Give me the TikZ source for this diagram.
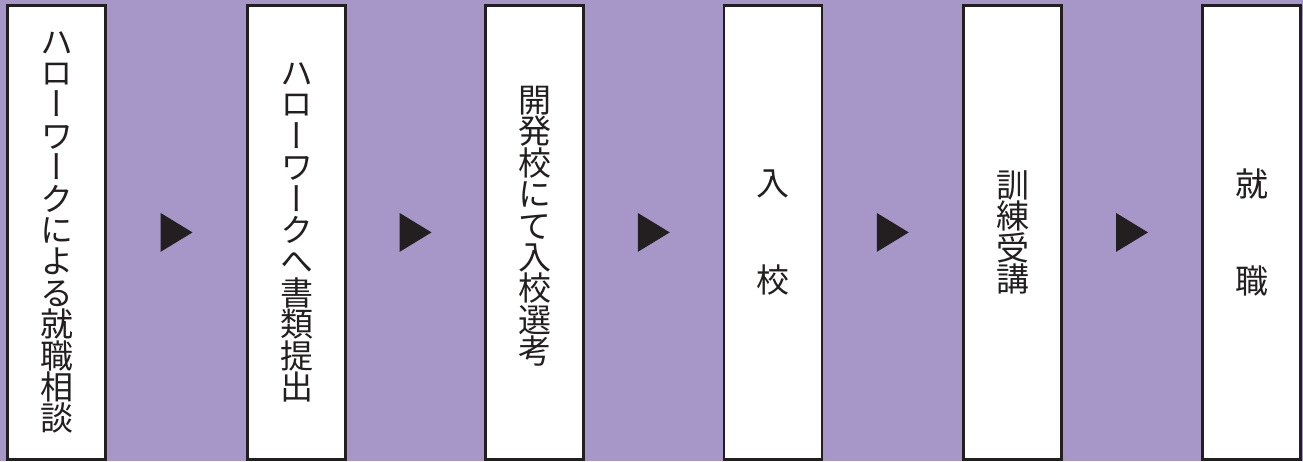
\documentclass[tikz,border=0pt]{standalone}
\usepackage{fontspec}
\usepackage{tikz}
\usetikzlibrary{calc}
\newfontfamily\jp[RawFeature=+vert]{Noto Sans CJK JP}
\definecolor{bg}{HTML}{A797C9}
\definecolor{ink}{HTML}{231F20}

\begin{document}
\begin{tikzpicture}[x=1pt,y=-1pt]
            \tikzstyle{stepbox}=[draw=ink,fill=white,line width=2.5pt,minimum width=98pt,minimum height=454pt,inner sep=0pt]
            \tikzstyle{steptext}=[font=\jp\fontsize{33pt}{31.4pt}\selectfont,align=center,inner sep=0pt,text=ink]
            \fill[bg] (0,0) rectangle (1303,461);
            \useasboundingbox (0,0) rectangle (1303,461);
            \node[stepbox] (b1) at (56.5,232.4) {};
            \node[stepbox] (b2) at (296.5,232.4) {};
            \node[stepbox] (b3) at (534.5,232.4) {};
            \node[stepbox] (b4) at (773,232.4) {};
            \node[stepbox] (b5) at (1012.5,232.4) {};
            \node[stepbox] (b6) at (1251.5,232.4) {};
            % vertical labels
            \node[steptext] (t1) at (b1.center) {ハ\\ロ\\ー\\ワ\\ー\\ク\\に\\よ\\る\\就\\職\\相\\談};
            \node[steptext] (t2) at (b2.center) {ハ\\ロ\\ー\\ワ\\ー\\ク\\へ\\書\\類\\提\\出};
            \node[steptext] (t3) at ([yshift=6pt]b3.center) {開\\発\\校\\に\\て\\入\\校\\選\\考};
            \node[steptext] (t4) at (b4.center) {入\\[66pt]校};
            \node[steptext] (t5) at (b5.center) {訓\\練\\受\\講};
            \node[steptext] (t6) at (b6.center) {就\\[66pt]職};
            % arrows between the boxes
            \foreach \a/\b in {b1/b2,b2/b3,b3/b4,b4/b5,b5/b6}
              \fill[ink] ($(\a.east)!0.5!(\b.west)$) ++(-16,-19.5) -- ++(32,19.5) -- ++(-32,19.5) -- cycle;
\end{tikzpicture}
\end{document}
